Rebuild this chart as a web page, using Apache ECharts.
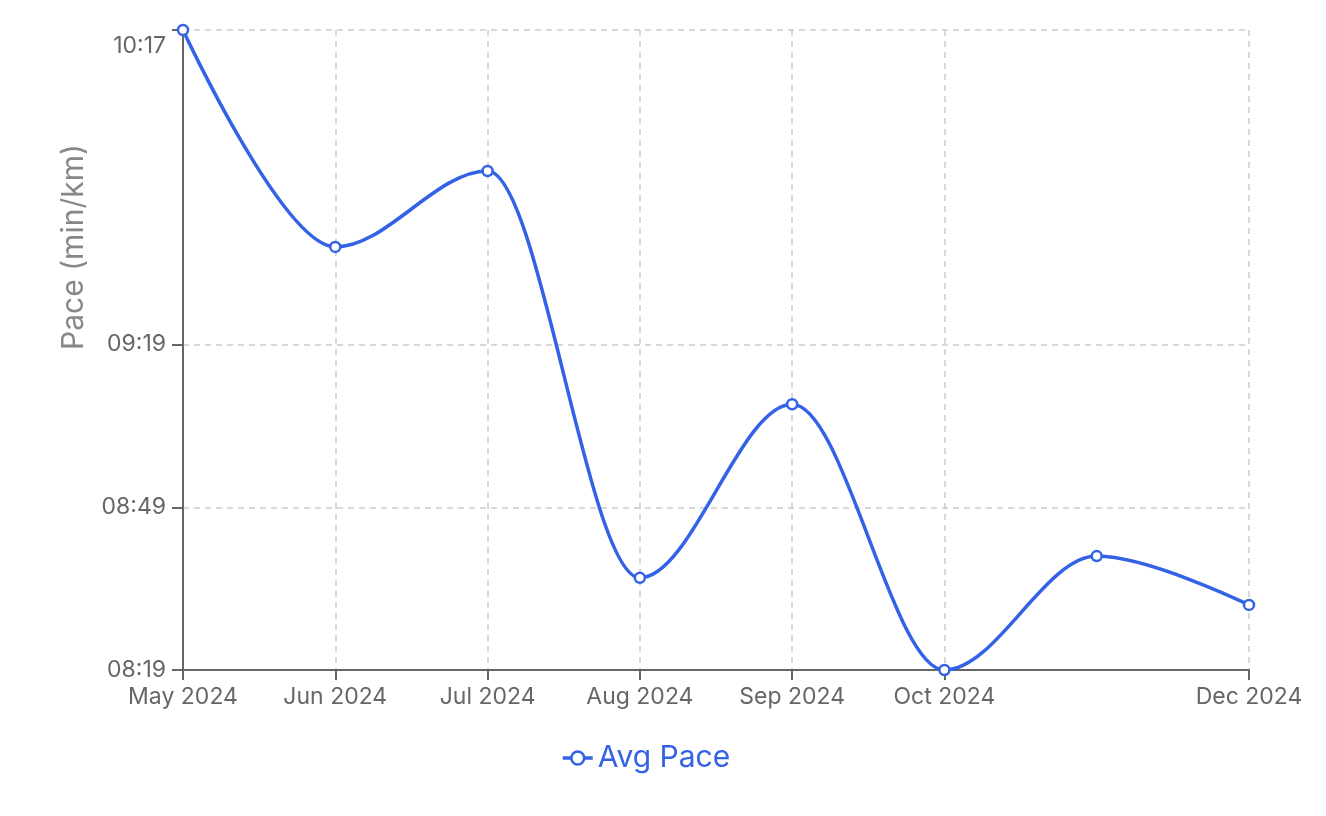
<!DOCTYPE html>
<html>
<head>
<meta charset="utf-8">
<script src="https://cdn.jsdelivr.net/npm/echarts@6/dist/echarts.min.js"></script>
<style>
html,body{margin:0;padding:0;background:#fff;}
#c{width:1326px;height:816px;}
</style>
</head>
<body>
<div id="c"></div>
<script>
// Months (category axis)
const months = ['May 2024','Jun 2024','Jul 2024','Aug 2024','Sep 2024','Oct 2024','Nov 2024','Dec 2024'];
// Average pace in seconds per km
const avgPace = [617, 577, 591, 516, 548, 499, 520, 511];
// Y tick values (seconds)
const yTicks = [499, 529, 559, 617];
const yMin = 499, yMax = 617;
// Hidden x label
const hiddenMonth = 'Nov 2024';

function fmt(s){
  const m = Math.floor(s/60), sec = Math.round(s - m*60);
  return String(m).padStart(2,'0') + ':' + String(sec).padStart(2,'0');
}
const FONT = 'Inter, "Noto Sans", sans-serif';
const BLUE = '#3462e6';
const showIdx = (i) => months[i] !== hiddenMonth;

const chart = echarts.init(document.getElementById('c'), null, {renderer:'canvas'});
chart.setOption({
  animation: false,
  textStyle: {fontFamily: FONT},
  grid: {left: 183, right: 77, top: 30, bottom: 146, containLabel: false},
  legend: {
    bottom: 38, left: 556,
    itemWidth: 30, itemHeight: 16, itemGap: 8,
    lineStyle: {width: 3.5},
    itemStyle: {borderWidth: 2.5},
    textStyle: {color: BLUE, fontSize: 30, fontFamily: FONT},
    data: ['Avg Pace']
  },
  xAxis: {
    type: 'category',
    data: months,
    boundaryGap: false,
    axisLine: {lineStyle: {color: '#666', width: 2}},
    axisTick: {show: true, interval: showIdx, length: 10, lineStyle: {color: '#666', width: 2}},
    axisLabel: {interval: showIdx, color: '#666', fontSize: 23, margin: 16, fontFamily: FONT},
    splitLine: {show: true, interval: showIdx, lineStyle: {color: '#ccc', type: [6,5], width: 1.5}}
  },
  yAxis: {
    type: 'value',
    min: yMin, max: yMax,
    name: 'Pace (min/km)',
    nameLocation: 'middle',
    nameGap: 94,
    nameRotate: 90,
    nameTextStyle: {color: '#888', fontSize: 30, fontFamily: FONT, padding: [0, 0, 0, 206]},
    axisLine: {show: true, lineStyle: {color: '#666', width: 2}},
    axisTick: {show: true, customValues: yTicks, length: 11, lineStyle: {color: '#666', width: 2}},
    axisLabel: {
      customValues: yTicks, color: '#666', fontSize: 23, margin: 17, fontFamily: FONT,
      verticalAlignMaxLabel: 'top',
      formatter: (v) => v === yMax ? '{t|' + fmt(v) + '}' : fmt(v),
      rich: {t: {fontSize: 23, color: '#666', fontFamily: FONT, padding: [5, 0, 0, 0]}}
    },
    splitLine: {show: true, lineStyle: {color: '#ccc', type: [6,5], width: 1.5}}
  },
  series: [{
    name: 'Avg Pace',
    type: 'line',
    data: avgPace,
    smooth: 0.34,
    smoothMonotone: 'x',
    symbol: 'circle',
    symbolSize: 10,
    lineStyle: {color: BLUE, width: 3.5},
    itemStyle: {color: '#fff', borderColor: BLUE, borderWidth: 2.5},
    clip: false
  }]
});
</script>
</body>
</html>
